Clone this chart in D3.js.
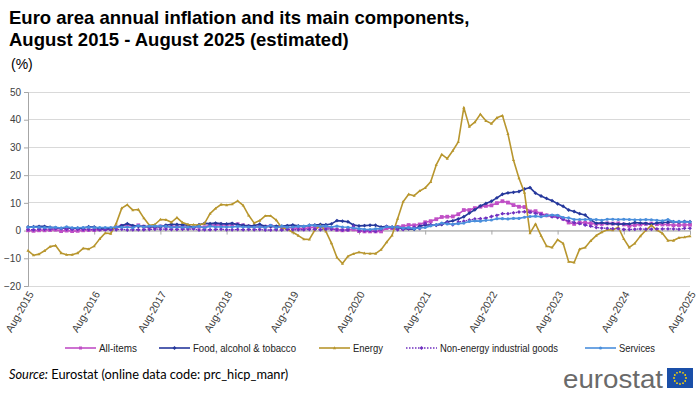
<!DOCTYPE html>
<html><head><meta charset="utf-8">
<script src="https://cdn.jsdelivr.net/npm/d3@7"></script>
<style>
body{margin:0;background:#fff;}
svg{display:block;}
</style></head>
<body>
<svg id="c" width="700" height="395"></svg>
<script>
const tickLabels = ["Aug-2015","Aug-2016","Aug-2017","Aug-2018","Aug-2019","Aug-2020","Aug-2021","Aug-2022","Aug-2023","Aug-2024","Aug-2025"];
const yTicks = [-20,-10,0,10,20,30,40,50];
const seriesNames = ["All-items","Food, alcohol & tobacco","Energy","Non-energy industrial goods","Services"];

// monthly values Aug-2015 .. Aug-2025
const allItems = [0.1,-0.1,0.1,0.1,0.2,
 0.3,-0.2,0.0,-0.2,-0.1,0.1,0.2,0.2,0.4,0.5,0.6,1.1,
 1.7,2.0,1.5,1.9,1.4,1.3,1.3,1.5,1.5,1.4,1.5,1.3,
 1.3,1.1,1.4,1.2,2.0,2.0,2.1,2.0,2.1,2.3,1.9,1.5,
 1.4,1.5,1.4,1.7,1.2,1.3,1.0,1.0,0.8,0.7,1.0,1.3,
 1.4,1.2,0.7,0.3,0.1,0.3,0.4,-0.2,-0.3,-0.3,-0.3,-0.3,
 0.9,0.9,1.3,1.6,2.0,1.9,2.2,3.0,3.4,4.1,4.9,5.0,
 5.1,5.9,7.4,7.4,8.1,8.6,8.9,9.1,9.9,10.6,10.1,9.2,
 8.6,8.5,6.9,7.0,6.1,5.5,5.3,5.2,4.3,2.9,2.4,2.9,
 2.8,2.6,2.4,2.4,2.6,2.5,2.6,2.2,1.7,2.0,2.2,2.4,
 2.5,2.3,2.2,2.2,1.9,2.0,2.0,2.1];
const food = [1.3,1.4,1.5,1.5,1.2,
 1.0,0.8,1.0,0.8,0.9,0.9,1.4,1.3,0.7,0.5,0.7,1.2,
 1.8,2.5,1.8,1.5,1.5,1.4,1.4,1.4,1.9,2.3,2.2,2.1,
 1.9,1.0,2.1,2.6,2.5,2.7,2.5,2.4,2.6,2.2,1.9,1.7,
 1.8,2.3,1.5,1.5,1.6,1.6,1.8,2.0,1.7,1.5,1.9,2.0,
 2.2,2.1,2.4,3.6,3.4,3.2,2.0,1.7,1.8,1.9,1.9,1.3,
 1.5,1.3,1.1,0.7,0.6,0.5,1.6,2.0,2.0,1.9,2.2,3.2,
 3.5,4.2,5.0,6.3,7.5,8.9,9.8,10.6,11.8,13.1,13.6,13.8,
 14.1,15.0,15.5,13.5,12.5,11.6,10.8,9.7,8.8,7.4,6.9,6.1,
 5.6,3.9,2.6,2.8,2.6,2.5,2.3,2.4,2.4,2.9,2.7,2.6,
 2.3,2.7,2.9,3.0,3.2,3.1,3.3,3.2];
const energy = [-7.2,-8.9,-8.5,-7.3,-5.8,
 -5.4,-8.1,-8.7,-8.7,-8.1,-6.4,-6.7,-5.6,-3.0,-0.9,-1.1,2.6,
 8.1,9.3,7.4,7.6,4.5,1.9,2.2,4.0,3.9,3.0,4.7,2.9,
 2.2,2.1,2.0,2.6,6.1,8.0,9.4,9.2,9.5,10.7,9.1,5.5,
 2.7,3.6,5.3,5.3,3.8,0.9,0.5,-0.6,-1.8,-3.1,-3.2,0.2,
 1.9,-0.3,-4.5,-9.7,-11.9,-9.3,-8.4,-7.8,-8.2,-8.3,-8.3,-6.9,
 -4.2,-1.7,4.3,10.4,13.1,12.6,14.3,15.4,17.6,23.7,27.5,26.0,
 28.8,32.0,44.4,37.5,39.1,42.0,39.6,38.6,40.7,41.5,34.9,25.5,
 18.9,13.7,-0.9,2.4,-1.8,-5.6,-6.1,-3.3,-4.6,-11.2,-11.5,-6.7,
 -6.1,-3.7,-1.8,-0.6,0.3,0.2,1.2,-3.0,-6.1,-4.6,-2.0,0.1,
 1.9,0.2,-1.0,-3.6,-3.6,-2.6,-2.4,-2.0];
const nonEnergy = [0.4,0.3,0.5,0.5,0.5,
 0.7,0.7,0.5,0.5,0.5,0.4,0.4,0.3,0.3,0.3,0.3,0.3,
 0.5,0.2,0.3,0.3,0.3,0.4,0.5,0.5,0.5,0.4,0.4,0.5,
 0.5,0.6,0.2,0.3,0.3,0.4,0.5,0.3,0.3,0.4,0.3,0.4,
 0.3,0.4,0.2,0.2,0.3,0.2,0.4,0.3,0.3,0.3,0.4,0.5,
 0.3,0.5,0.5,0.3,0.2,0.2,1.6,-0.1,-0.1,-0.1,-0.3,0.5,
 1.5,1.0,0.3,0.4,0.7,1.2,0.7,2.6,2.1,2.0,2.4,2.9,
 2.1,3.1,3.4,3.8,4.2,4.3,4.5,5.1,5.5,6.1,6.1,6.4,
 6.7,6.8,6.6,6.2,5.8,5.5,5.0,4.7,4.1,3.5,2.9,2.5,
 2.0,1.6,1.1,0.9,0.8,0.7,0.7,0.4,0.4,0.5,0.6,0.5,
 0.5,0.6,0.6,0.6,0.6,0.5,0.8,0.8];
const services = [1.2,1.3,1.2,1.1,1.1,
 1.2,0.9,1.4,1.0,1.0,1.1,1.2,1.1,1.1,1.1,1.1,1.3,
 1.2,1.3,1.0,1.8,1.3,1.6,1.6,1.6,1.5,1.2,1.3,1.2,
 1.2,1.3,1.5,1.0,1.6,1.3,1.4,1.3,1.3,1.5,1.3,1.3,
 1.2,1.4,1.1,1.9,1.0,1.6,1.2,1.3,1.5,1.5,1.9,1.8,
 1.5,1.6,1.3,1.6,1.3,1.2,0.9,0.7,0.5,0.4,0.6,0.7,
 1.4,1.3,1.3,0.9,1.1,0.7,0.9,1.1,1.7,2.1,2.7,2.4,
 2.3,2.5,2.7,3.3,3.5,3.4,3.7,3.8,4.3,4.3,4.2,4.4,
 4.4,4.8,5.1,5.2,5.0,5.4,5.6,5.5,4.7,4.6,4.0,4.0,
 4.0,4.0,4.0,3.7,4.1,4.1,4.0,4.1,4.0,3.9,3.9,4.0,
 3.9,3.7,3.5,4.0,3.2,3.3,3.2,3.1];

const seriesData = [allItems, food, energy, nonEnergy, services];
const colors = ["#c04fc6","#26389c","#b8962e","#7030c0","#4a8fdc"];
const markers = ["square","diamond","triangle","cross","circle"];
const dashes = [null,null,null,"1.5,1.5",null];

const svg = d3.select("#c");
const x = d3.scaleLinear().domain([0, 120]).range([28, 690]);
const y = d3.scaleLinear().domain([-20, 50]).range([286, 92]);

// title
const t = svg.append("text").attr("font-family","'Liberation Sans',Arial,sans-serif")
 .attr("font-weight","bold").attr("font-size",18.5).attr("fill","#000");
t.append("tspan").attr("x",9).attr("y",24).text("Euro area annual inflation and its main components,");
t.append("tspan").attr("x",9).attr("y",46).text("August 2015 - August 2025 (estimated)");
svg.append("text").attr("x",11).attr("y",69).attr("font-family","'Liberation Sans',Arial,sans-serif")
 .attr("font-size",14).attr("fill","#000").text("(%)");

// gridlines
svg.append("g").selectAll("line").data(yTicks).join("line")
 .attr("x1",x(0)).attr("x2",x(120)).attr("y1",d=>y(d)).attr("y2",d=>y(d))
 .attr("stroke","#d9d9d9").attr("stroke-width",1).attr("shape-rendering","crispEdges");

// y axis
const yAxis = d3.axisLeft(y).tickValues(yTicks).tickSize(4).tickPadding(3).tickFormat(d3.format("d"));
const gy = svg.append("g").attr("transform",`translate(${x(0)},0)`).call(yAxis);
gy.select(".domain").attr("stroke","#a6a6a6");
gy.selectAll(".tick line").attr("stroke","#a6a6a6");
gy.selectAll("text").attr("font-family","'Liberation Sans',Arial,sans-serif").attr("font-size",10).attr("fill","#404040");

// x axis at zero
const xTickVals = tickLabels.map((d,i)=>i*12);
const xAxis = d3.axisBottom(x).tickValues(xTickVals).tickSize(4).tickFormat("");
const gx = svg.append("g").attr("transform",`translate(0,${y(0)})`).call(xAxis);
gx.select(".domain").attr("stroke","#a6a6a6");
gx.selectAll(".tick line").attr("stroke","#a6a6a6");

// x labels at bottom
svg.append("g").selectAll("text").data(tickLabels).join("text")
 .attr("transform",(d,i)=>`translate(${x(i*12)+3},${y(-20)+6}) rotate(-60)`)
 .attr("text-anchor","end").attr("dy","0.35em")
 .attr("font-family","'Liberation Sans',Arial,sans-serif").attr("font-size",10.5).attr("fill","#404040")
 .text(d=>d);

function markerPath(type, size){
  const s = size;
  if(type==="square") return `M${-s},${-s}h${2*s}v${2*s}h${-2*s}Z`;
  if(type==="diamond") return `M0,${-s*1.3}L${s*1.3},0L0,${s*1.3}L${-s*1.3},0Z`;
  if(type==="triangle") return `M0,${-s*1.2}L${s*1.1},${s*0.8}L${-s*1.1},${s*0.8}Z`;
  if(type==="cross") return `M0,${-s*1.3}L${s*1.3},0L0,${s*1.3}L${-s*1.3},0Z`;
  return d3.symbol().type(d3.symbolCircle).size(s*s*3.4)();
}

const line = d3.line().x((d,i)=>x(i)).y(d=>y(d));
const plot = svg.append("g");
seriesData.forEach((arr,k)=>{
  const g = plot.append("g");
  g.append("path").attr("d",line(arr)).attr("fill","none").attr("stroke",colors[k])
   .attr("stroke-width",k===3?1.3:1.6).attr("stroke-dasharray",dashes[k]).attr("stroke-linejoin","round");
  const sz = k===0?1.9:(k===2?1.4:1.5);
  g.selectAll("path.m").data(arr).join("path").attr("class","m")
   .attr("transform",(d,i)=>`translate(${x(i)},${y(d)})`)
   .attr("d",markerPath(markers[k],sz)).attr("fill",colors[k]);
});

// legend
const legX = [65,159,319,406,585];
const legW = [38,103,30,118,36];
const lg = svg.append("g");
seriesNames.forEach((n,k)=>{
  const yy = 348;
  lg.append("line").attr("x1",legX[k]).attr("x2",legX[k]+31).attr("y1",yy).attr("y2",yy)
   .attr("stroke",colors[k]).attr("stroke-width",k===3?1.3:1.6).attr("stroke-dasharray",dashes[k]);
  lg.append("path").attr("transform",`translate(${legX[k]+15.5},${yy})`).attr("d",markerPath(markers[k],1.5)).attr("fill",colors[k]);
  lg.append("text").attr("x",legX[k]+34).attr("y",yy).attr("dy","0.35em")
   .attr("font-family","'Liberation Sans',Arial,sans-serif")
   .attr("textLength",legW[k]).attr("lengthAdjust","spacingAndGlyphs")
   .attr("font-size",10.5).attr("fill","#222").text(n);
});

// source
const src = svg.append("text").attr("x",9).attr("y",379)
 .attr("font-family","Lato,'Open Sans',sans-serif").attr("font-size",12.8).attr("fill","#000");
src.append("tspan").attr("font-style","italic").text("Source:");
src.append("tspan").text(" Eurostat (online data code: prc_hicp_manr)");

// logo
svg.append("text").attr("x",663).attr("y",388).attr("text-anchor","end")
 .attr("font-family","'Liberation Sans',Arial,sans-serif").attr("font-size",26).attr("fill","#6a6a6a")
 .attr("textLength",100).attr("lengthAdjust","spacingAndGlyphs").text("eurostat");
svg.append("rect").attr("x",667).attr("y",368).attr("width",26).attr("height",20).attr("fill","#1a4fa8");
const stars = d3.range(12).map(i=>i*30);
svg.append("g").selectAll("circle").data(stars).join("circle")
 .attr("cx",d=>680+6*Math.cos(d*Math.PI/180)).attr("cy",d=>378+6*Math.sin(d*Math.PI/180))
 .attr("r",0.9).attr("fill","#ffd600");
</script>
</body></html>
